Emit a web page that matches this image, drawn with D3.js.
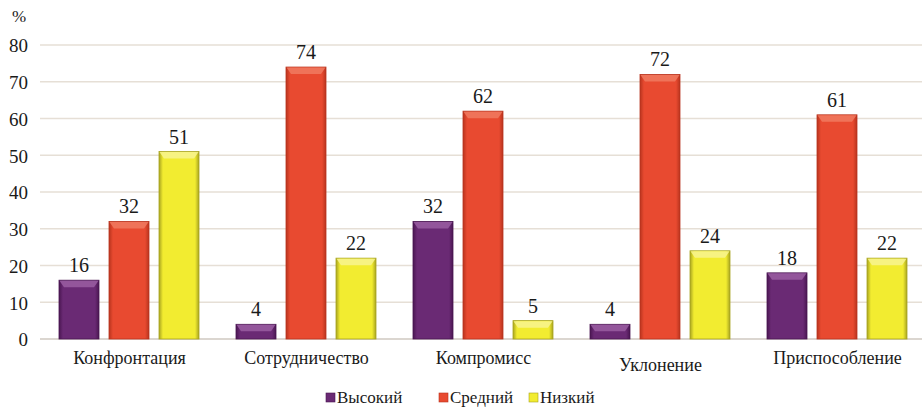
<!DOCTYPE html>
<html>
<head>
<meta charset="UTF-8">
<title>Стили поведения в конфликте</title>
<script src="https://d3js.org/d3.v7.min.js"></script>
<style>
    body { margin: 0; background: #fff; }
</style>
</head>
<body>
<svg id="chart" width="922" height="415"></svg>
<script>
    const categories = ["Конфронтация", "Сотрудничество", "Компромисс", "Уклонение", "Приспособление"];
    const seriesNames = ["Высокий", "Средний", "Низкий"];
    const high = [16, 4, 32, 4, 18];
    const medium = [32, 74, 62, 72, 61];
    const low = [51, 22, 5, 24, 22];
    const yTicks = [0, 10, 20, 30, 40, 50, 60, 70, 80];

    const font = size => `font-family:'Liberation Serif';font-size:${size}px`;

    const colors = {
        "Высокий": { main: "#6a2a74", light: "#9a5ea2", dark: "#4a1652" },
        "Средний": { main: "#e84a30", light: "#f07a60", dark: "#b8341e" },
        "Низкий": { main: "#f2ec30", light: "#f8f490", dark: "#a8a420" }
    };

    const series = [high, medium, low];
    const rows = [];
    categories.forEach((c, i) => {
        seriesNames.forEach((s, j) => rows.push({ cat: c, name: s, value: series[j][i] }));
    });

    const svg = d3.select("#chart");
    const plotLeft = 41, plotRight = 926, plotTop = 45, plotBottom = 339;

    const x = d3.scaleBand().domain(categories).range([plotLeft, plotRight]);
    const xs = d3.scaleBand().domain(seriesNames).range([18, x.bandwidth() - 19]).paddingInner(0.2);
    const y = d3.scaleLinear().domain([0, 80]).range([plotBottom, plotTop]);

    // gradients for side shading
    const defs = svg.append("defs");
    seriesNames.forEach((s, j) => {
        const g = defs.append("linearGradient").attr("id", "g" + j).attr("x1", 0).attr("x2", 1).attr("y1", 0).attr("y2", 0);
        g.append("stop").attr("offset", 0).attr("stop-color", colors[s].dark);
        g.append("stop").attr("offset", 0.1).attr("stop-color", colors[s].main);
        g.append("stop").attr("offset", 0.9).attr("stop-color", colors[s].main);
        g.append("stop").attr("offset", 1).attr("stop-color", colors[s].dark);
    });

    // grid
    svg.append("g")
        .selectAll("line")
        .data(yTicks)
        .join("line")
        .attr("x1", plotLeft - 1)
        .attr("x2", 922)
        .attr("y1", d => y(d))
        .attr("y2", d => y(d))
        .attr("stroke", d => d === 0 ? "#cfc8c0" : "#e6dfd6")
        .attr("stroke-width", 1.3);

    // y axis labels
    const yAxis = svg.append("g")
        .attr("transform", `translate(${plotLeft - 13},0)`)
        .call(d3.axisLeft(y).tickValues(yTicks).tickSize(0).tickPadding(0));
    yAxis.select(".domain").remove();
    yAxis.attr("font-family", null).attr("font-size", null);
    yAxis.selectAll("text")
        .attr("style", font(19))
        .attr("fill", "#1a1a1a")
        .attr("dy", "0.36em");

    svg.append("text").attr("x", 12).attr("y", 22)
        .attr("style", font(17)).attr("fill", "#1a1a1a").text("%");

    // bars
    const groups = svg.append("g")
        .selectAll("g")
        .data(rows)
        .join("g")
        .attr("transform", d => `translate(${x(d.cat) + xs(d.name)},0)`);

    const bw = xs.bandwidth();
    groups.append("rect")
        .attr("x", 0)
        .attr("y", d => y(d.value))
        .attr("width", bw)
        .attr("height", d => y(0) - y(d.value))
        .attr("fill", d => `url(#g${seriesNames.indexOf(d.name)})`)
        .attr("stroke", d => colors[d.name].dark)
        .attr("stroke-width", 0.8);

    // bevel highlight on top
    groups.append("path")
        .attr("d", d => {
            const t = y(d.value);
            const h = Math.min(7, (y(0) - t) / 2);
            return `M0.5,${t + 0.5}L${bw - 0.5},${t + 0.5}L${bw - 5},${t + h}L5,${t + h}Z`;
        })
        .attr("fill", d => colors[d.name].light)
        .attr("opacity", 0.85);

    // value labels
    groups.append("text")
        .attr("x", bw / 2)
        .attr("y", d => y(d.value) - 8)
        .attr("text-anchor", "middle")
        .attr("style", font(20))
        .attr("fill", "#1a1a1a")
        .text(d => d.value);

    // category labels
    svg.append("g")
        .selectAll("text")
        .data(categories)
        .join("text")
        .attr("x", d => x(d) + x.bandwidth() / 2)
        .attr("y", d => d === "Уклонение" ? 371 : 364)
        .attr("text-anchor", "middle")
        .attr("style", font(18))
        .attr("fill", "#1a1a1a")
        .text(d => d);

    // legend
    const legendX = [326, 439, 529];
    const legend = svg.append("g")
        .selectAll("g")
        .data(seriesNames)
        .join("g")
        .attr("transform", (d, i) => `translate(${legendX[i]},403)`);
    legend.append("rect")
        .attr("x", 0).attr("y", -10)
        .attr("width", 9).attr("height", 9)
        .attr("fill", d => colors[d].main)
        .attr("stroke", d => colors[d].dark)
        .attr("stroke-width", 0.6);
    legend.append("text")
        .attr("x", 11)
        .attr("y", 0)
        .attr("style", font(17))
        .attr("fill", "#1a1a1a")
        .text(d => d);
</script>
</body>
</html>
